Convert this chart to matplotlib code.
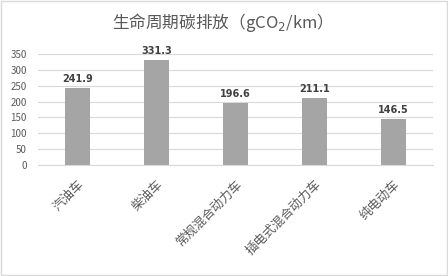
import numpy as np
import matplotlib.pyplot as plt

plt.rcParams['font.family'] = ['Noto Sans CJK SC', 'DejaVu Sans']

categories = ['汽油车', '柴油车', '常规混合动力车', '插电式混合动力车', '纯电动车']
values = [241.9, 331.3, 196.6, 211.1, 146.5]
yticks = [0, 50, 100, 150, 200, 250, 300, 350]

fig = plt.figure(figsize=(4.48, 2.76), dpi=100)
ax = fig.add_axes([38/448, 1-165/276, 395/448, 111/276])

x = np.arange(len(categories))
ax.bar(x, values, width=0.32, color='#a5a5a5', zorder=3)
for xi, v in zip(x, values):
    ax.text(xi, v + 12, '%.1f' % v, ha='center', va='bottom', fontsize=7,
            fontweight='bold', color='#404040', family='DejaVu Sans')

ax.set_xlim(-0.5, len(categories) - 0.5)
ax.set_ylim(0, 350)
ax.set_yticks(yticks)
ax.set_yticklabels([str(t) for t in yticks], fontsize=7, color='#595959')
ax.yaxis.grid(True, color='#d9d9d9', linewidth=0.8, zorder=0)
ax.set_xticks(x)
ax.set_xticklabels(categories, rotation=45, ha='right', rotation_mode='anchor',
                   fontsize=9, color='#595959')
ax.tick_params(axis='both', length=0)
ax.tick_params(axis='x', pad=9)
ax.tick_params(axis='y', pad=8)
for s in ['top', 'right', 'left']:
    ax.spines[s].set_visible(False)
ax.spines['bottom'].set_color('#d9d9d9')

fig.text(218/448, 1-22/276, '生命周期碳排放（gCO$_2$/km）', ha='center', va='center',
         fontsize=12, color='#595959')

border = plt.Rectangle((0.002, 0.002), 0.996, 0.996, transform=fig.transFigure,
                       fill=False, edgecolor='#d9d9d9', linewidth=1)
fig.patches.append(border)

fig.savefig('out.png', dpi=100)
